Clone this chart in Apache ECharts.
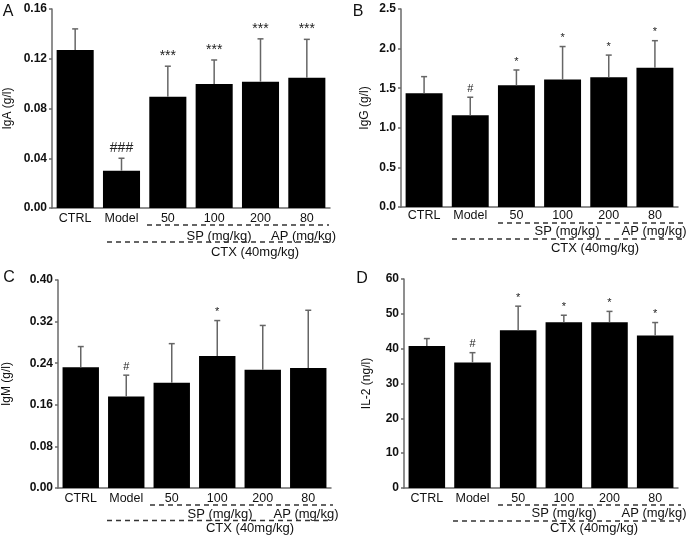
<!DOCTYPE html>
<html>
<head>
<meta charset="utf-8">
<script src="https://cdn.jsdelivr.net/npm/echarts@6/dist/echarts.min.js"></script>
<style>html,body{margin:0;padding:0;background:#fff}#c{width:690px;height:540px}</style>
</head>
<body>
<div id="c"></div>
<script>
var categories = ['CTRL', 'Model', '50', '100', '200', '80'];

var igaMean = [0.127, 0.030, 0.0895, 0.0997, 0.1016, 0.1048];
var igaErr  = [0.017, 0.010, 0.0245, 0.0193, 0.0344, 0.0308];
var igaSig  = ['', '###', '***', '***', '***', '***'];
var igaTicks = {min: 0, max: 0.16, interval: 0.04, decimals: 2};

var iggMean = [1.436, 1.16, 1.537, 1.61, 1.637, 1.759];
var iggErr  = [0.21, 0.226, 0.193, 0.416, 0.281, 0.341];
var iggSig  = ['', '#', '*', '*', '*', '*'];
var iggTicks = {min: 0, max: 2.5, interval: 0.5, decimals: 1};

var igmMean = [0.232, 0.176, 0.2026, 0.254, 0.2276, 0.2308];
var igmErr  = [0.040, 0.041, 0.075, 0.068, 0.085, 0.111];
var igmSig  = ['', '#', '', '*', '', ''];
var igmTicks = {min: 0, max: 0.40, interval: 0.08, decimals: 2};

var il2Mean = [40.8, 36.0, 45.3, 47.6, 47.6, 43.8];
var il2Err  = [2.1, 2.85, 6.9, 2.0, 3.1, 3.7];
var il2Sig  = ['', '#', '*', '*', '*', '*'];
var il2Ticks = {min: 0, max: 60, interval: 10, decimals: 0};

var yNames = ['IgA (g/l)', 'IgG (g/l)', 'IgM (g/l)', 'IL-2 (ng/l)'];
var panelLetters = ['A', 'B', 'C', 'D'];
var spLabel = 'SP (mg/kg)', apLabel = 'AP (mg/kg)', ctxLabel = 'CTX (40mg/kg)';

var FONT = '"Liberation Sans", Arial, sans-serif';
var AXC = '#6a6a6a';

var panels = [
  {mean: igaMean, err: igaErr, sig: igaSig, t: igaTicks, grid: {left: 52, top: 9, width: 278, height: 199}, nameGap: 38, sigFs: 14, labMargin: 4},
  {mean: iggMean, err: iggErr, sig: iggSig, t: iggTicks, grid: {left: 401, top: 9, width: 277, height: 198}, nameGap: 30, sigFs: 11, labMargin: 2},
  {mean: igmMean, err: igmErr, sig: igmSig, t: igmTicks, grid: {left: 57, top: 280, width: 274, height: 208}, nameGap: 45, sigFs: 11, labMargin: 4},
  {mean: il2Mean, err: il2Err, sig: il2Sig, t: il2Ticks, grid: {left: 404, top: 279, width: 274, height: 209}, nameGap: 31, sigFs: 11, labMargin: 4}
];

var grids = [], xAxes = [], yAxes = [], series = [];
panels.forEach(function (p, k) {
  grids.push(p.grid);
  xAxes.push({
    type: 'category', gridIndex: k, data: categories,
    axisLine: {lineStyle: {color: AXC, width: 1.5}},
    axisTick: {show: false},
    axisLabel: {color: '#111', fontSize: 12.5, fontFamily: FONT, margin: p.labMargin, interval: 0}
  });
  yAxes.push({
    type: 'value', gridIndex: k, min: p.t.min, max: p.t.max, interval: p.t.interval,
    name: yNames[k], nameLocation: 'middle', nameGap: p.nameGap, nameRotate: 90,
    nameTextStyle: {color: '#111', fontSize: 12, fontFamily: FONT},
    splitLine: {show: false},
    axisLine: {show: true, lineStyle: {color: AXC, width: 1.5}},
    axisTick: {show: true, inside: false, length: 3, lineStyle: {color: AXC, width: 1.5}},
    axisLabel: {color: '#111', fontSize: 12, fontWeight: 'bold', fontFamily: FONT, margin: 5,
      formatter: (function (d) { return function (v) { return v.toFixed(d); }; })(p.t.decimals)}
  });
  series.push({
    type: 'bar', xAxisIndex: k, yAxisIndex: k, data: p.mean,
    barCategoryGap: '20%', itemStyle: {color: '#000'}, silent: true, z: 2
  });
  series.push({
    type: 'custom', xAxisIndex: k, yAxisIndex: k, z: 3, silent: true,
    data: p.mean.map(function (m, i) { return [i, m, p.err[i]]; }),
    renderItem: function (params, api) {
      var i = api.value(0), m = api.value(1), e = api.value(2);
      var p0 = api.coord([i, m]), p1 = api.coord([i, m + e]);
      var s = p.sig[params.dataIndex];
      var ch = [
        {type: 'line', shape: {x1: p0[0], y1: p0[1], x2: p1[0], y2: p1[1]}, style: {stroke: '#666', lineWidth: 1.5}},
        {type: 'line', shape: {x1: p1[0] - 3, y1: p1[1], x2: p1[0] + 3, y2: p1[1]}, style: {stroke: '#666', lineWidth: 1.5}}
      ];
      if (s) {
        ch.push({type: 'text', x: p1[0], y: p1[1] - 3,
          style: {text: s, fill: '#222', font: p.sigFs + 'px ' + FONT, textAlign: 'center', textVerticalAlign: 'bottom'}});
      }
      return {type: 'group', children: ch};
    }
  });
});

function dline(x1, x2, y) {
  return {type: 'line', shape: {x1: x1, y1: y, x2: x2, y2: y},
    style: {stroke: '#333', lineWidth: 1.5, lineDash: [5, 4]}};
}
function txt(s, x, y, size) {
  return {type: 'text', x: x, y: y,
    style: {text: s, fill: '#111', font: (size || 13) + 'px ' + FONT, textAlign: 'center', textVerticalAlign: 'middle'}};
}

var graphics = [
  txt(panelLetters[0], 8, 12, 16), txt(panelLetters[1], 358, 12, 16),
  txt(panelLetters[2], 9, 278, 16), txt(panelLetters[3], 362, 279, 16),
  // A
  dline(147, 329, 225), txt(spLabel, 219, 236), txt(apLabel, 303.5, 236),
  dline(107, 330, 242), txt(ctxLabel, 255, 252.5),
  // B
  dline(498, 683, 223), txt(spLabel, 567, 231.5), txt(apLabel, 654, 231.5),
  dline(452, 683, 239), txt(ctxLabel, 595, 248.5),
  // C
  dline(150, 333, 505), txt(spLabel, 220, 514.5), txt(apLabel, 306, 514.5),
  dline(107, 332, 520.5), txt(ctxLabel, 250, 528.5),
  // D
  dline(498, 681, 505), txt(spLabel, 564, 513.5), txt(apLabel, 654, 513.5),
  dline(453, 680, 521), txt(ctxLabel, 594, 528.5)
];

var chart = echarts.init(document.getElementById('c'), null, {renderer: 'canvas'});
chart.setOption({
  animation: false,
  backgroundColor: '#fff',
  textStyle: {fontFamily: FONT},
  grid: grids, xAxis: xAxes, yAxis: yAxes, series: series,
  graphic: graphics
});
</script>
</body>
</html>
